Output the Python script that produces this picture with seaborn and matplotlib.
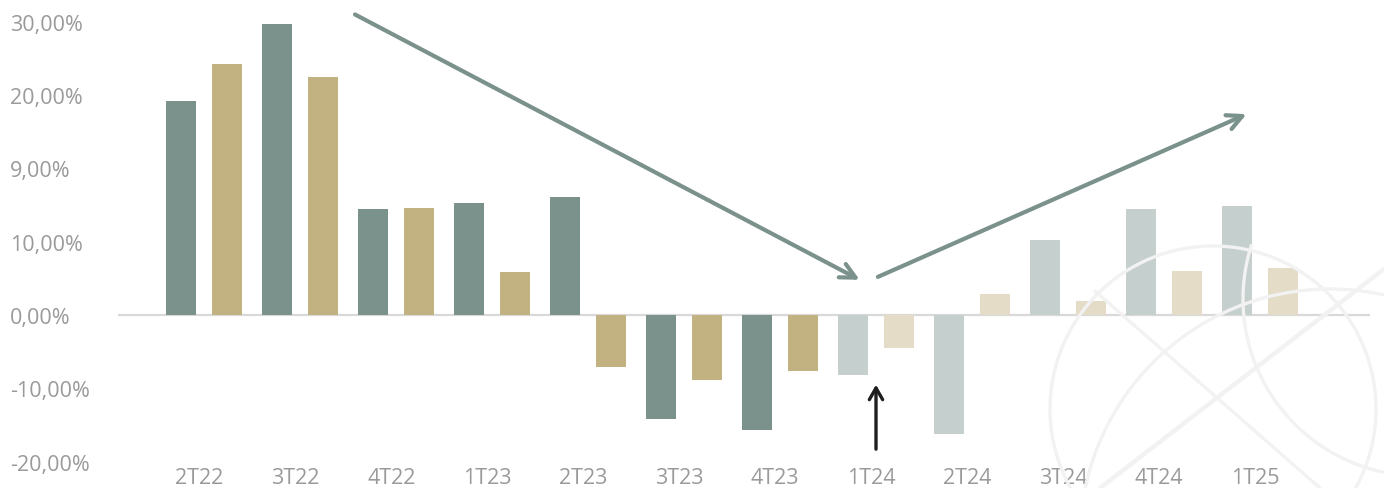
import numpy as np
import pandas as pd
import matplotlib
matplotlib.use("Agg")
import matplotlib.pyplot as plt
from matplotlib.patches import Circle
from matplotlib.transforms import Bbox
import seaborn as sns

# Quarterly variation, two series per quarter
quarters = ["2T22", "3T22", "4T22", "1T23", "2T23", "3T23",
            "4T23", "1T24", "2T24", "3T24", "4T24", "1T25"]
serie_a = [29.2, 39.7, 14.5, 15.3, 16.1, -14.2, -15.7, -8.2, -16.2, 10.2, 14.5, 14.9]
serie_b = [34.2, 32.5, 14.6, 5.9, -7.1, -8.9, -7.6, -4.5, 2.9, 1.9, 6.0, 6.4]

ytick_pos = [-20, -10, 0, 10, 20, 30, 40]
ytick_labels = ["-20,00%", "-10,00%", "0,00%", "10,00%", "9,00%", "20,00%", "30,00%"]

# quarters from this index onward are drawn faded
faded_from = 7

df = pd.DataFrame({
    "trimestre": quarters * 2,
    "serie": ["A"] * len(quarters) + ["B"] * len(quarters),
    "valor": serie_a + serie_b,
})

sns.set_theme(style="white")
plt.rcParams["font.family"] = ["Open Sans", "DejaVu Sans"]

W, H = 1384, 489
fig = plt.figure(figsize=(W / 100, H / 100), dpi=100)

# faint globe watermark in the lower right corner (figure pixel coordinates)
wm_col = "#f2f2f2"
wm_box = Bbox.from_extents(1030, 0, W, H - 245)
wm = dict(fill=False, edgecolor=wm_col, lw=2.4, transform=None, zorder=0)
wm_artists = [
    Circle((1213, H - 410), 163, **wm),
    Circle((1420, H - 300), 177, **wm),
    Circle((1330, H - 540), 250, **wm),
    plt.Line2D([1100, 1384], [H - 489, H - 270], color=wm_col, lw=3.2,
               transform=None, zorder=0),
    plt.Line2D([1095, 1320], [H - 292, H - 489], color=wm_col, lw=2.4,
               transform=None, zorder=0),
]
for a in wm_artists:
    a.set_clip_box(wm_box)
    a.set_clip_on(True)
    if isinstance(a, plt.Line2D):
        fig.lines.append(a)
    else:
        fig.patches.append(a)

left_px, right_px = 118, 1370
bottom_px = 462.6
ax = fig.add_axes([left_px / W, (H - bottom_px) / H,
                   (right_px - left_px) / W, bottom_px / H])
ax.set_facecolor("none")

dark, khaki = "#7a918c", "#c2b281"
dark_f, khaki_f = "#c5cfcd", "#e4dcc7"

sns.barplot(data=df, x="trimestre", y="valor", hue="serie",
            palette=[dark, khaki], saturation=1, width=0.96, gap=0.33,
            linewidth=0, legend=False, ax=ax, zorder=2)

n = len(quarters)
for i, p in enumerate(ax.patches[:2 * n]):
    if i % n >= faded_from:
        p.set_facecolor(dark_f if i < n else khaki_f)

ax.axhline(0, color="#d9d9d9", lw=1.6, zorder=1)

ax.set_xlim((left_px - 204) / 96, (right_px - 204) / 96)
ax.set_ylim(-20, 316 / 7.33)

for s in ax.spines.values():
    s.set_visible(False)

ax.set_xlabel("")
ax.set_ylabel("")
ax.set_xticks(np.arange(n) - 0.05)
ax.set_xticklabels(quarters)
ax.set_yticks(ytick_pos)
ax.set_yticklabels(ytick_labels)
ax.tick_params(axis="both", length=0, colors="#9a9a9a", labelsize=15.5)
ax.tick_params(axis="x", pad=4)
ax.tick_params(axis="y", pad=78)
for lab in ax.get_yticklabels():
    lab.set_horizontalalignment("left")

# trend arrows
arrow_green = dict(arrowstyle="->,head_length=0.9,head_width=0.45",
                   color="#7a918c", lw=3, shrinkA=0, shrinkB=0,
                   capstyle="round", joinstyle="round")
ax.annotate("", xy=(6.83, 4.8), xytext=(1.573, 41.0),
            arrowprops=arrow_green, annotation_clip=False)
ax.annotate("", xy=(10.86, 27.4), xytext=(7.02, 5.2),
            arrowprops=arrow_green, annotation_clip=False)
ax.annotate("", xy=(7.0, -9.5), xytext=(7.0, -18.3),
            arrowprops=dict(arrowstyle="->,head_length=0.7,head_width=0.4",
                            color="#1e1e1e", lw=2.4, shrinkA=0, shrinkB=0),
            annotation_clip=False)

fig.savefig("out.png", dpi=100)
